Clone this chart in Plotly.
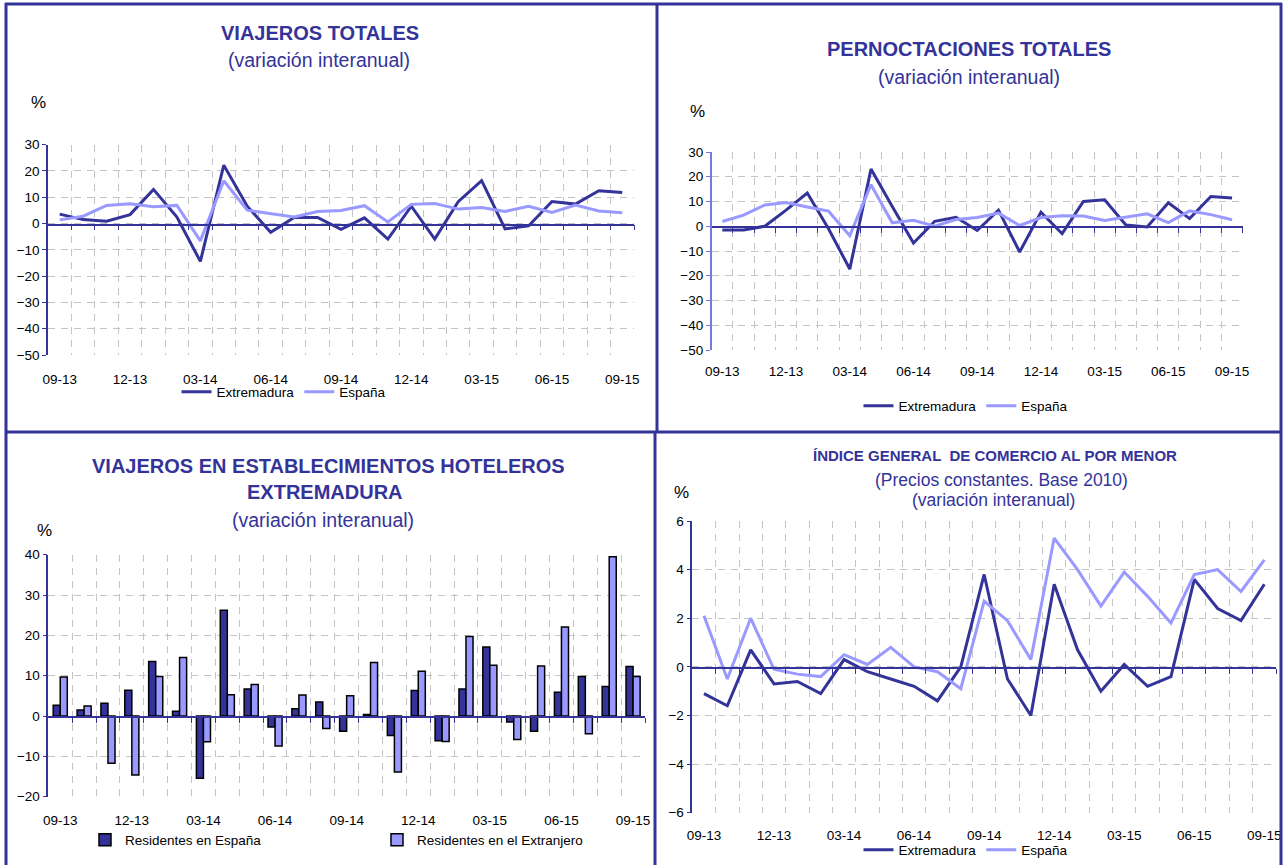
import plotly.graph_objects as go

# ---------------- data ----------------
months = ["09-13", "10-13", "11-13", "12-13", "01-14", "02-14", "03-14", "04-14", "05-14",
          "06-14", "07-14", "08-14", "09-14", "10-14", "11-14", "12-14", "01-15", "02-15",
          "03-15", "04-15", "05-15", "06-15", "07-15", "08-15", "09-15"]
tick_labels = ["09-13", "12-13", "03-14", "06-14", "09-14", "12-14", "03-15", "06-15", "09-15"]

viajeros_ext = [3.6, 1.5, 0.9, 3.4, 13.0, 2.5, -14.4, 22.2, 6.6, -3.3, 2.3, 2.3, -2.2,
                2.2, -5.9, 6.6, -5.9, 8.3, 16.3, -2.0, -0.9, 8.4, 7.4, 12.5, 11.8]
viajeros_esp = [1.4, 2.8, 6.9, 7.5, 6.4, 6.9, -6.6, 16.3, 5.1, 3.8, 2.5, 4.6, 5.0,
                6.8, 0.6, 7.3, 7.6, 5.5, 6.1, 4.6, 6.6, 4.2, 7.0, 4.8, 4.1]

pernoct_ext = [-1.5, -1.5, 0.0, 6.5, 13.4, -1.0, -17.3, 23.1, 8.0, -6.8, 2.0, 3.6, -1.7,
               6.5, -10.4, 5.7, -3.0, 10.0, 10.7, 0.5, -0.3, 9.5, 3.1, 12.0, 11.4]
pernoct_esp = [1.9, 4.5, 8.6, 9.6, 7.8, 6.1, -3.8, 16.8, 1.4, 2.4, 0.0, 2.7, 3.5,
               5.3, 0.3, 3.5, 4.2, 4.1, 2.3, 3.6, 5.0, 1.5, 6.2, 4.7, 2.6]

res_espana = [2.7, 1.5, 3.2, 6.4, 13.5, 1.2, -15.4, 26.2, 6.7, -2.7, 1.8, 3.5, -3.8,
              0.4, -4.8, 6.3, -6.1, 6.7, 17.1, -1.5, -3.8, 5.9, 9.8, 7.3, 12.3]
res_extranjero = [9.7, 2.5, -11.7, -14.6, 9.8, 14.5, -6.4, 5.3, 7.8, -7.4, 5.2, -3.1, 5.0,
                  13.3, -13.9, 11.1, -6.3, 19.7, 12.6, -5.8, 12.4, 22.1, -4.4, 39.5, 9.8]

comercio_ext = [-1.1, -1.6, 0.7, -0.7, -0.6, -1.1, 0.3, -0.2, -0.5, -0.8, -1.4, 0.0, 3.8,
                -0.5, -2.0, 3.4, 0.7, -1.0, 0.1, -0.8, -0.4, 3.6, 2.4, 1.9, 3.4]
comercio_esp = [2.1, -0.5, 2.0, -0.1, -0.3, -0.4, 0.5, 0.1, 0.8, 0.0, -0.2, -0.9, 2.7,
                1.9, 0.3, 5.3, 4.0, 2.5, 3.9, 2.9, 1.8, 3.8, 4.0, 3.1, 4.4]

# ---------------- styling ----------------
W, H = 1283, 865
FONT = "Liberation Sans, Arial, sans-serif"
NAVY = "#333399"
LIGHT = "#9999ff"
GRID = "#c4c4c4"
DASH = "7px,6px"


def fx(px):
    return px / W


def fy(py):
    return 1 - py / H


x_idx = list(range(len(months)))
tickvals = [months.index(t) for t in tick_labels]
bounds = [i + 0.5 for i in x_idx]
xrange_ = [-0.5, len(months) - 0.5]

# panel geometry in pixels
panels = [
    dict(x=(48, 634), y=(144.7, 355), r=(-50, 30), dt=10, push=12, yline=NAVY),
    dict(x=(711.7, 1242.7), y=(152, 350), r=(-50, 30), dt=10, push=9, yline="#7777dd"),
    dict(x=(48.3, 645), y=(554.7, 796.7), r=(-20, 40), dt=10, push=11, yline=NAVY),
    dict(x=(692.3, 1276), y=(521, 812.7), r=(-6, 6), dt=2, push=10, yline=NAVY),
]

fig = go.Figure()
layout = dict(
    width=W, height=H, margin=dict(l=0, r=0, t=0, b=0, autoexpand=False),
    paper_bgcolor="white", plot_bgcolor="rgba(0,0,0,0)",
    font=dict(family=FONT, size=13.5, color="black"),
    barmode="group", bargap=0.41, bargroupgap=0.0,
    showlegend=True,
)

for i, p in enumerate(panels, start=1):
    xd = [fx(p["x"][0]), fx(p["x"][1])]
    yd = [fy(p["y"][1]), fy(p["y"][0])]
    sfx = "" if i == 1 else str(i)
    layout["xaxis" + sfx] = dict(
        domain=xd, anchor="y" + sfx, range=xrange_,
        tickmode="array", tickvals=tickvals, ticktext=tick_labels,
        ticks="outside", ticklen=p["push"], tickcolor="rgba(0,0,0,0)",
        showline=False, showgrid=False, zeroline=False, automargin=False,
        tickfont=dict(family=FONT, size=13.5, color="black"),
        minor=dict(tickmode="array", tickvals=bounds, showgrid=True, gridcolor=GRID,
                   griddash=DASH, gridwidth=1, ticks=""),
        fixedrange=True,
    )
    ylo, yhi = p["r"]
    layout["yaxis" + sfx] = dict(
        domain=yd, anchor="x" + sfx, range=[ylo, yhi], dtick=p["dt"], tick0=0,
        showline=True, linecolor=p["yline"], linewidth=1.5,
        ticks="outside", ticklen=4, tickcolor=p["yline"],
        showgrid=True, gridcolor=GRID, griddash=DASH, gridwidth=1,
        zeroline=False, automargin=False,
        tickfont=dict(family=FONT, size=13.5, color="black"),
        fixedrange=True,
    )
    # a separate thin subplot whose bottom edge sits at y = 0: draws the category axis line
    zero_pos = yd[0] + (0 - ylo) / (yhi - ylo) * (yd[1] - yd[0])
    k = i + 4
    layout[f"xaxis{k}"] = dict(
        domain=xd, anchor=f"y{k}", range=xrange_, showline=True, linecolor=NAVY,
        linewidth=1.5, tickmode="array", tickvals=bounds, ticks="outside", ticklen=5,
        tickcolor=NAVY, showticklabels=False, showgrid=False, zeroline=False,
        automargin=False, fixedrange=True,
    )
    layout[f"yaxis{k}"] = dict(
        domain=[zero_pos, min(zero_pos + 0.01, 1)], anchor=f"x{k}", range=[0, 1],
        visible=False, showgrid=False, zeroline=False, automargin=False, fixedrange=True,
    )
    fig.add_trace(go.Scatter(x=[], y=[], xaxis=f"x{k}", yaxis=f"y{k}", showlegend=False,
                             hoverinfo="skip"))

# ---------------- traces ----------------
line_sets = [
    (1, viajeros_ext, viajeros_esp, "legend"),
    (2, pernoct_ext, pernoct_esp, "legend2"),
    (4, comercio_ext, comercio_esp, "legend4"),
]
for i, ext, esp, lg in line_sets:
    xa = "x" if i == 1 else f"x{i}"
    ya = "y" if i == 1 else f"y{i}"
    fig.add_trace(go.Scatter(x=x_idx, y=ext, mode="lines", name="Extremadura",
                             line=dict(color=NAVY, width=3), xaxis=xa, yaxis=ya,
                             legend=lg, hoverinfo="skip"))
    fig.add_trace(go.Scatter(x=x_idx, y=esp, mode="lines", name="España",
                             line=dict(color=LIGHT, width=3), xaxis=xa, yaxis=ya,
                             legend=lg, hoverinfo="skip"))

fig.add_trace(go.Bar(x=x_idx, y=res_espana, name="Residentes en España",
                     marker=dict(color=NAVY, line=dict(color="black", width=1.5)),
                     xaxis="x3", yaxis="y3", legend="legend3", hoverinfo="skip"))
fig.add_trace(go.Bar(x=x_idx, y=res_extranjero, name="Residentes en el Extranjero",
                     marker=dict(color=LIGHT, line=dict(color="black", width=1.5)),
                     xaxis="x3", yaxis="y3", legend="legend3", hoverinfo="skip"))

leg_common = dict(orientation="h", bgcolor="rgba(0,0,0,0)", borderwidth=0,
                  font=dict(family=FONT, size=13.5, color="black"), tracegroupgap=0)
layout["legend"] = dict(leg_common, x=fx(284), y=fy(392), xanchor="center", yanchor="middle")
layout["legend2"] = dict(leg_common, x=fx(966), y=fy(406), xanchor="center", yanchor="middle")
layout["legend3"] = dict(leg_common, x=fx(85), y=fy(840), xanchor="left", yanchor="middle",
                         entrywidth=247, entrywidthmode="pixels")
layout["legend4"] = dict(leg_common, x=fx(966), y=fy(850), xanchor="center", yanchor="middle")

# ---------------- titles ----------------
annotations = []


def text(s, cx, cy, size, bold=False, color=NAVY):
    annotations.append(dict(
        text=f"<b>{s}</b>" if bold else s, x=fx(cx), y=fy(cy), xref="paper", yref="paper",
        xanchor="center", yanchor="middle", showarrow=False,
        font=dict(family=FONT, size=size, color=color)))


text("VIAJEROS TOTALES", 320, 33, 20, bold=True)
text("(variación interanual)", 319, 60, 19.5)
text("%", 38, 102, 17, color="black")

text("PERNOCTACIONES TOTALES", 969, 49, 20, bold=True)
text("(variación interanual)", 969, 77, 19.5)
text("%", 697, 112, 17, color="black")

text("VIAJEROS EN ESTABLECIMIENTOS HOTELEROS", 328, 466, 20, bold=True)
text("EXTREMADURA", 325, 492, 20, bold=True)
text("(variación interanual)", 323, 520, 19.5)
text("%", 44, 530, 17, color="black")

text("ÍNDICE GENERAL  DE COMERCIO AL POR MENOR", 995, 455, 15, bold=True)
text("(Precios constantes. Base 2010)", 1001, 480, 17.5)
text("(variación interanual)", 993, 500, 17.5)
text("%", 681, 492, 17, color="black")

layout["annotations"] = annotations

# ---------------- panel borders ----------------
shapes = []
for (x0, y0, x1, y1) in [(6, 3, 6, 865), (5, 4, 1282, 4), (1281, 3, 1281, 865),
                         (657, 3, 657, 432), (655, 432, 655, 865), (5, 432, 1282, 432)]:
    shapes.append(dict(type="line", xref="paper", yref="paper",
                       x0=fx(x0), y0=fy(y0), x1=fx(x1), y1=fy(y1),
                       line=dict(color=NAVY, width=3)))
layout["shapes"] = shapes

fig.update_layout(**layout)
fig.write_html(
    "out.html",
    config={"displayModeBar": False},
    post_script="document.body.style.margin='0';document.body.style.overflow='hidden';",
)
